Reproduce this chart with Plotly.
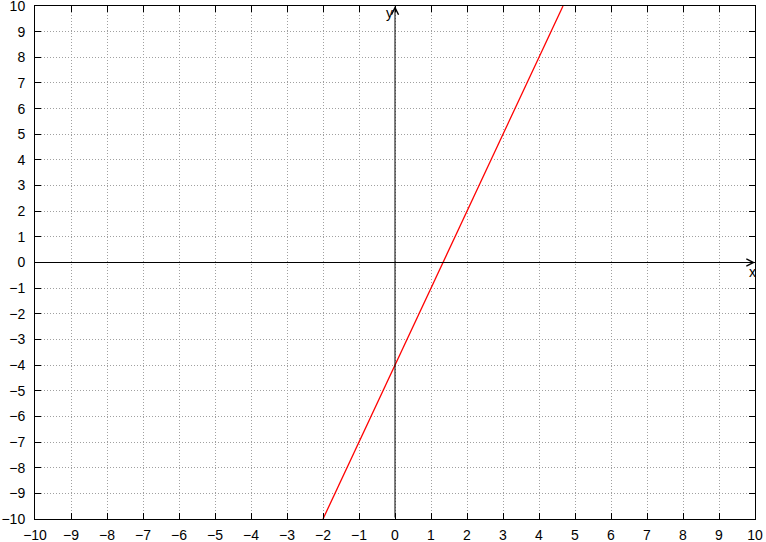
import plotly.graph_objects as go

x_ticks = list(range(-10, 11))
y_ticks = list(range(-10, 11))
line_x = [-2, 0, 2, 4.6667]
line_y = [-10, -4, 2, 10]

FONT = "Liberation Sans, Arial, sans-serif"

fig = go.Figure()
fig.add_trace(go.Scatter(x=line_x, y=line_y, mode="lines",
                         line=dict(color="#ff0000", width=1.3), showlegend=False))

axis_common = dict(
    range=[-10, 10], tickmode="array", showgrid=True, gridcolor="#a0a0a0",
    griddash="1px,2px", gridwidth=1, zeroline=False, showline=True, linecolor="black",
    linewidth=1, mirror="ticks", ticks="inside", ticklen=6, tickcolor="black",
    tickfont=dict(family=FONT, size=14, color="black"),
    fixedrange=True, automargin=False, ticklabeloverflow="allow",
)
fig.update_xaxes(tickvals=x_ticks, ticktext=[str(v).replace("-", "\u2212") for v in x_ticks],
                 ticklabelstandoff=3, **axis_common)
fig.update_yaxes(tickvals=y_ticks, ticktext=[str(v).replace("-", "\u2212") for v in y_ticks],
                 ticklabelstandoff=6, **axis_common)

# axis arrows
fig.add_annotation(x=10, y=0, ax=-10, ay=0, xref="x", yref="y", axref="x", ayref="y",
                   showarrow=True, arrowhead=5, arrowsize=1.4, arrowwidth=1, arrowcolor="black", text="")
fig.add_annotation(x=0, y=10, ax=0, ay=-10, xref="x", yref="y", axref="x", ayref="y",
                   showarrow=True, arrowhead=5, arrowsize=1.4, arrowwidth=1, arrowcolor="black", text="")
fig.add_annotation(x=10, y=0, xref="x", yref="y", text="x", showarrow=False,
                   xanchor="center", yanchor="top", yshift=1, xshift=-3,
                   font=dict(family=FONT, size=14, color="black"))
fig.add_annotation(x=0, y=10, xref="x", yref="y", text="y", showarrow=False,
                   xanchor="right", yanchor="top", xshift=0, yshift=3,
                   font=dict(family=FONT, size=14, color="black"))

fig.update_layout(
    width=766, height=542, margin=dict(l=35, r=11, t=6, b=23),
    paper_bgcolor="white", plot_bgcolor="white",
)
fig.write_html("out.html", config={"displayModeBar": False},
               post_script="document.body.style.margin='0';")
